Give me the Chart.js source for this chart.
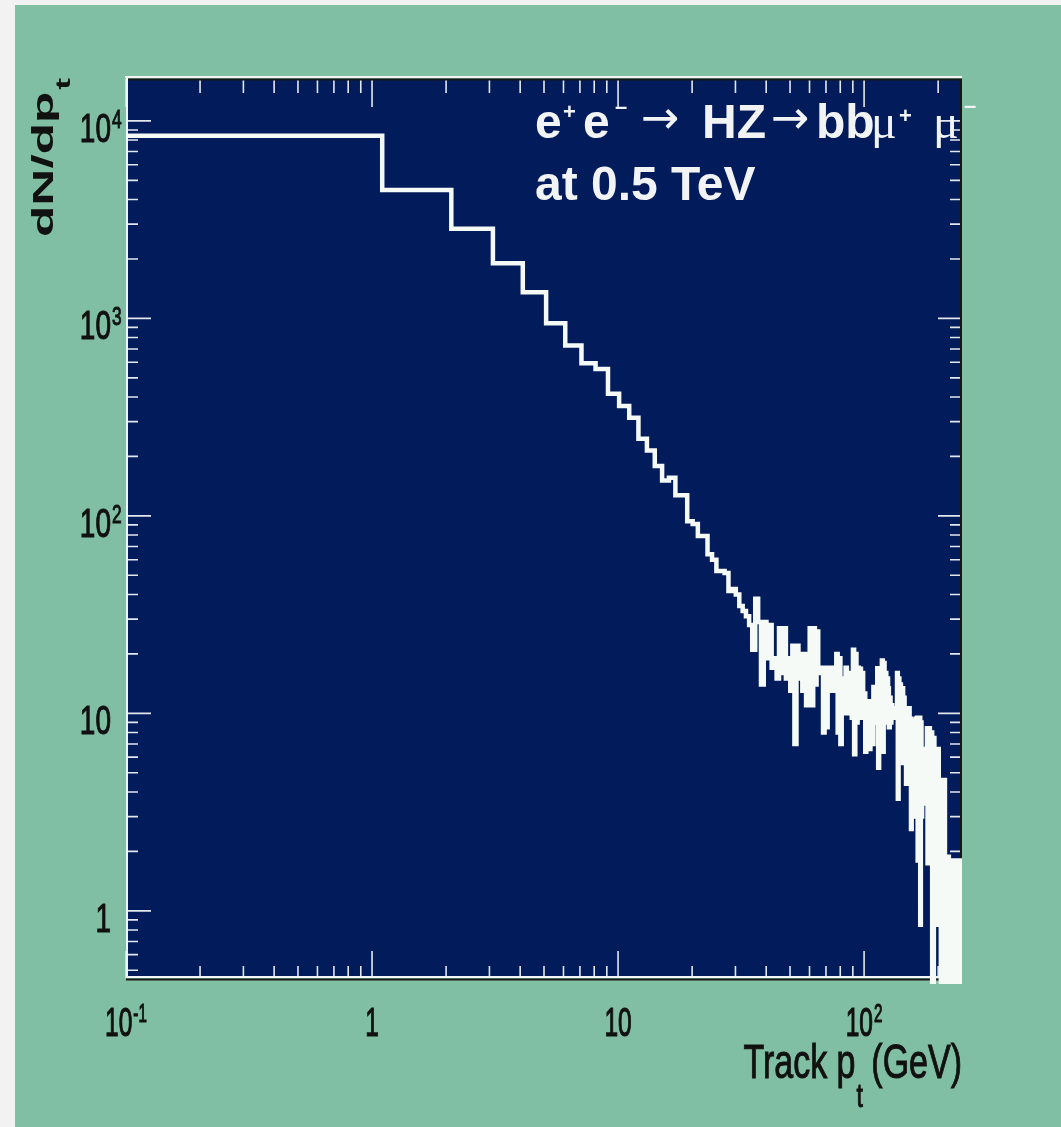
<!DOCTYPE html>
<html>
<head>
<meta charset="utf-8">
<title>Track pt</title>
<script src="https://cdn.jsdelivr.net/npm/chart.js@4.4.0/dist/chart.umd.min.js"></script>
<style>
  html, body { margin: 0; padding: 0; background: #f2f2f2; overflow: hidden; }
  #wrap { position: absolute; left: 15px; top: 5px; width: 1046px; height: 1122px; background: #80bfa3; }
  canvas { display: block; }
</style>
</head>
<body>
<div id="wrap"><canvas id="pt_chart" width="1046" height="1122"></canvas></div>
<script>
'use strict';

// histogram: 1 GeV bins starting at 0.1 GeV
const binLow = 0.1;
const binWidth = 1;

// bins 0.1 .. 30.1 GeV
const countsLow = [
    8400, 4470, 2845, 1900, 1355, 944, 730, 592, 555, 415,
    360, 314, 246, 214, 179, 151, 156, 127, 127, 94,
    91, 79, 79, 64, 60, 52.6, 52.6, 51.4, 41.6, 42.6
];

// bins 30.1 .. 250.1 GeV (noisy tail, 0 = empty bin)
const countsTail = [
    40, 35, 33, 31, 28, 21, 38, 29, 14, 29,
    19, 28, 17, 19, 15, 27, 16, 27, 15, 19,
    13, 22, 7, 22, 15, 20, 13, 20, 11, 20,
    27, 11, 27, 14, 26, 17, 16, 17, 8, 17,
    8.5, 17, 13, 17, 14, 16, 13, 20, 8, 19,
    7, 15, 10, 14, 17, 10, 16, 11, 15, 9.5,
    21, 6.2, 20, 9, 17, 9.5, 16.8, 12, 16, 9.5,
    12.6, 6.4, 11, 9, 11.5, 6.6, 10, 11, 7, 13.6,
    9, 12, 10, 16.9, 5.3, 14, 8, 16, 18.5, 6.4,
    18, 9, 16, 11, 15, 13.4, 8.5, 12, 9, 11,
    10.6, 9.5, 10, 9.6, 10.5, 9.5, 16, 3.7, 15, 6,
    14, 7, 13, 13.4, 5.6, 12, 7, 10.6, 4.4, 9,
    10, 5, 10.6, 6, 9.4, 2.6, 9, 4, 9.2, 3,
    9, 4, 9.4, 3, 9.5, 1.8, 9, 3, 9.5, 0.85,
    9, 3, 6.6, 3.5, 6, 4, 6.6, 3.5, 6, 4,
    8.4, 1.74, 8, 3, 8.4, 2, 7, 1.74, 8, 0,
    7.5, 0, 7.5, 3, 6.6, 0.85, 6.6, 2, 6.6, 0.85,
    6.6, 1, 4.6, 2, 4.6, 0, 4.6, 1, 4.6, 0,
    4.6, 0, 4.6, 0, 1.88, 0, 1.88, 0, 1.88, 0,
    1.88, 0, 1.8, 0, 1.8, 0, 1.8, 0, 1.8, 0,
    1.8, 0, 1.8, 0, 1.8, 0, 1.8, 0, 1.8, 0,
    1.8, 0, 1.8, 0, 1.8, 0, 1.8, 0, 1.8, 1.8
];

const xRange = [0.1, 250];
const yRange = [0.457, 16300];

const xMajor = [0.1, 1, 10, 100];
const xMajorText = [['10', '-1'], ['1', ''], ['10', ''], ['10', '2']];
const yMajor = [1, 10, 100, 1000, 10000];
const yMajorText = [['1', ''], ['10', ''], ['10', '2'], ['10', '3'], ['10', '4']];

const xTitle = ['Track p', 't', ' (GeV)'];
const yTitle = ['dN/dp', 't'];

const tickFont = "'Liberation Sans', Arial, sans-serif";
const emptyFloor = 0.3; // empty bins on a log axis: drawn just under the frame

const counts = countsLow.concat(countsTail);
const points = counts.map((c, i) => ({ x: binLow + i * binWidth, y: c > 0 ? c : emptyFloor }));
points.push({ x: binLow + counts.length * binWidth, y: emptyFloor });

function minorTicks(min, max) {
    const out = [];
    for (let e = Math.floor(Math.log10(min)); e <= Math.ceil(Math.log10(max)); e++) {
        for (let m = 2; m <= 9; m++) {
            const v = m * Math.pow(10, e);
            if (v > min && v < max) out.push(v);
        }
    }
    return out;
}

// text squeezed like the original (vertically stretched) ROOT picture, slightly heavier
function stretchedText(ctx, str, x, y, font, sy) {
    ctx.save();
    ctx.translate(x, y);
    ctx.scale(1, sy);
    ctx.font = font;
    ctx.lineWidth = 0.7;
    ctx.strokeStyle = ctx.fillStyle;
    ctx.fillText(str, 0, 0);
    ctx.strokeText(str, 0, 0);
    ctx.restore();
}

function powerLabel(ctx, pair, x, y, size, sy, align) {
    const base = pair[0], sup = pair[1];
    const supSize = size * 0.62;
    ctx.font = size + 'px ' + tickFont;
    const wb = ctx.measureText(base).width;
    ctx.font = supSize + 'px ' + tickFont;
    const ws = sup ? ctx.measureText(sup).width + 1 : 0;
    const left = align === 'center' ? x - (wb + ws) / 2 : x - wb;
    stretchedText(ctx, base, left, y, size + 'px ' + tickFont, sy);
    if (sup) {
        const capH = size * 0.716 * sy;
        const supCap = supSize * 0.716 * sy;
        stretchedText(ctx, sup, left + wb + 1, y - capH - 3 + supCap, supSize + 'px ' + tickFont, sy);
    }
}

const rootFrame = {
    id: 'rootFrame',
    beforeDatasetsDraw(chart) {
        const { ctx, chartArea: a, scales: { x, y } } = chart;
        ctx.save();
        ctx.fillStyle = '#011b5b';
        ctx.fillRect(a.left, a.top, a.right - a.left, a.bottom - a.top);

        // ticks inside the frame on all four sides
        ctx.strokeStyle = '#e3e7ee';
        ctx.lineWidth = 1.6;
        ctx.beginPath();
        const xTick = (v, lb, lt) => {
            const px = x.getPixelForValue(v);
            ctx.moveTo(px, a.bottom); ctx.lineTo(px, a.bottom - lb);
            ctx.moveTo(px, a.top); ctx.lineTo(px, a.top + lt);
        };
        const yTick = (v, ll, lr) => {
            const py = y.getPixelForValue(v);
            ctx.moveTo(a.left, py); ctx.lineTo(a.left + ll, py);
            ctx.moveTo(a.right, py); ctx.lineTo(a.right - lr, py);
        };
        xMajor.forEach(v => xTick(v, 27, 28));
        minorTicks(xRange[0], xRange[1]).forEach(v => xTick(v, 12, 14));
        yMajor.forEach(v => yTick(v, 25, 24));
        minorTicks(yRange[0], yRange[1]).forEach(v => yTick(v, 12, 12));
        ctx.stroke();

        // frame
        ctx.lineWidth = 2;
        ctx.strokeStyle = '#f2f4f6';
        ctx.beginPath();
        ctx.moveTo(a.left - 1, a.top - 2); ctx.lineTo(a.right, a.top - 2);
        ctx.moveTo(a.left + 1, a.top - 2); ctx.lineTo(a.left + 1, a.bottom - 1);
        ctx.lineTo(a.right, a.bottom - 1);
        ctx.stroke();
        ctx.strokeStyle = '#161616';
        ctx.beginPath();
        ctx.moveTo(a.left + 2, a.top + 0.5); ctx.lineTo(a.right - 1, a.top + 0.5);
        ctx.lineTo(a.right - 1, a.bottom + 1.5);
        ctx.lineTo(a.left, a.bottom + 1.5);
        ctx.stroke();
        ctx.restore();
    },
    afterDatasetsDraw(chart) {
        const { ctx, chartArea: a, scales: { x, y } } = chart;
        ctx.save();
        ctx.textAlign = 'left';
        ctx.textBaseline = 'alphabetic';
        ctx.fillStyle = '#111111';

        xMajor.forEach((v, i) => {
            powerLabel(ctx, xMajorText[i], x.getPixelForValue(v), a.bottom + 58, 24.5, 1.67, 'center');
        });
        yMajor.forEach((v, i) => {
            powerLabel(ctx, yMajorText[i], a.left - 15, y.getPixelForValue(v) + 21, 28, 1.47, 'right');
        });

        // x title, right aligned to the frame
        const xs = 1.44;
        ctx.font = '34px ' + tickFont;
        const w1 = ctx.measureText(xTitle[0]).width;
        const w3 = ctx.measureText(xTitle[2]).width;
        ctx.font = '23px ' + tickFont;
        const w2 = ctx.measureText(xTitle[1]).width;
        const tx = a.right - (w1 + w2 + w3);
        const ty = a.bottom + 100;
        stretchedText(ctx, xTitle[0], tx, ty, '34px ' + tickFont, xs);
        stretchedText(ctx, xTitle[1], tx + w1 + 1, ty + 29, '23px ' + tickFont, xs);
        stretchedText(ctx, xTitle[2], tx + w1 + w2, ty, '34px ' + tickFont, xs);

        // y title, rotated and stretched along the axis
        ctx.save();
        ctx.translate(a.left - 73, a.top + 158);
        ctx.rotate(-Math.PI / 2);
        ctx.scale(1.77, 1);
        ctx.font = 'bold 29px ' + tickFont;
        ctx.fillText(yTitle[0], 0, 0);
        const wy = ctx.measureText(yTitle[0]).width;
        ctx.font = 'bold 20px ' + tickFont;
        ctx.fillText(yTitle[1], wy + 1, 17);
        ctx.restore();

        // process label
        const bx = a.left + 409;
        const by = a.top + 59;
        const bold = 'bold 48px ' + tickFont;
        const supB = 'bold 22px ' + tickFont;
        const arrow = "46px 'DejaVu Sans', sans-serif";
        const mu = "48px 'Liberation Serif', 'DejaVu Serif', serif";
        const pieces = [
            ['e', bold, 0, 0], ['+', supB, 28, -19.5], ['e', bold, 48, 0], ['\u2013', supB, 80, -24],
            ['\u2192', arrow, 106, -5], ['HZ', bold, 167, 0], ['\u2192', arrow, 236, -5],
            ['bb', bold, 281, 0], ['\u03bc', mu, 336, 0], ['+', supB, 364, -15.5],
            ['\u03bc', mu, 398, 0], ['\u2013', supB, 429, -25]
        ];
        ctx.fillStyle = '#f1f3f5';
        pieces.forEach(p => {
            ctx.font = p[1];
            ctx.fillText(p[0], bx + p[2], by + p[3]);
        });
        ctx.font = bold;
        ctx.fillText('at 0.5 TeV', bx, by + 62);
        ctx.restore();
    }
};

const ptChart = new Chart(document.querySelector('#pt_chart'), {
    type: 'line',
    data: {
        datasets: [{
            label: 'Track pt',
            data: points,
            stepped: true,
            borderColor: '#f5faf7',
            borderWidth: 4.5,
            pointRadius: 0,
            fill: false,
            clip: { left: 2, top: 2, right: 0, bottom: 6 }
        }]
    },
    options: {
        responsive: false,
        animation: false,
        events: [],
        layout: { padding: { left: 111, top: 74, right: 99, bottom: 149 } },
        plugins: {
            legend: { display: false },
            tooltip: { enabled: false }
        },
        scales: {
            x: { type: 'logarithmic', min: xRange[0], max: xRange[1], display: false },
            y: { type: 'logarithmic', min: yRange[0], max: yRange[1], display: false }
        }
    },
    plugins: [rootFrame]
});
</script>
</body>
</html>
